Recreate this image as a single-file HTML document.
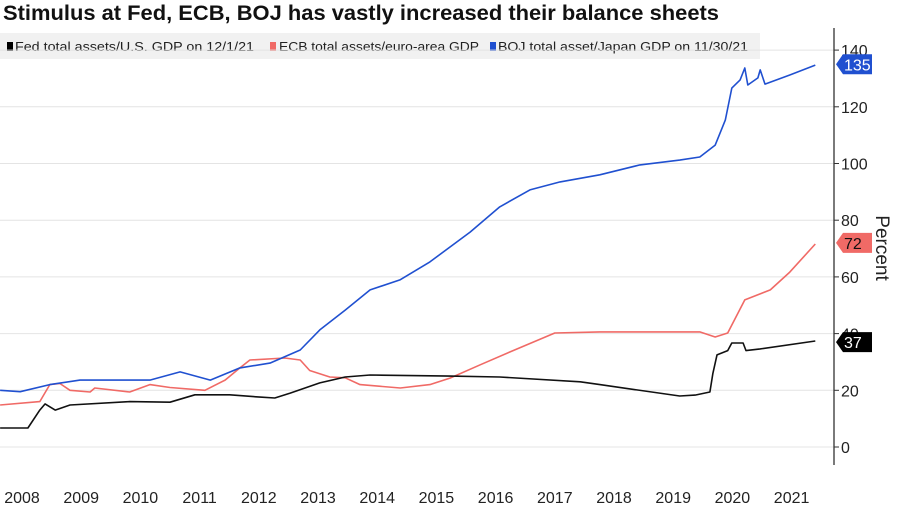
<!DOCTYPE html>
<html><head><meta charset="utf-8"><style>
body{margin:0;background:#fff;}
svg{display:block;font-family:"Liberation Sans Narrow","Liberation Sans",sans-serif;}
</style></head><body>
<svg id="c" width="900" height="510" viewBox="0 0 900 510">
<text x="3" y="20" font-size="21" font-weight="bold" fill="#111" textLength="716" lengthAdjust="spacingAndGlyphs">Stimulus at Fed, ECB, BOJ has vastly increased their balance sheets</text>
<g>
<rect x="0" y="33" width="760" height="26" fill="#f1f1f1"/>
<rect x="7" y="42" width="6" height="9" fill="#000"/>
<text x="15" y="51" font-size="13" fill="#222" textLength="239" lengthAdjust="spacingAndGlyphs">Fed total assets/U.S. GDP on 12/1/21</text>
<rect x="270" y="42" width="6" height="9" fill="#f06a66"/>
<text x="279" y="51" font-size="13" fill="#222" textLength="200" lengthAdjust="spacingAndGlyphs">ECB total assets/euro-area GDP</text>
<rect x="490" y="42" width="6" height="9" fill="#1f4fd0"/>
<text x="498" y="51" font-size="13" fill="#222" textLength="250" lengthAdjust="spacingAndGlyphs">BOJ total asset/Japan GDP on 11/30/21</text>
</g>
<g id="grid"></g><g id="axes"></g><g id="series"></g><g id="tags"></g>
<text transform="translate(876,248) rotate(90)" text-anchor="middle" font-size="19" fill="#222">Percent</text>
</svg>
<script>
const yTicks=[0,20,40,60,80,100,120,140];
const years=[2008,2009,2010,2011,2012,2013,2014,2015,2016,2017,2018,2019,2020,2021];
const fedT=[2008.13,2008.60,2008.80,2008.89,2009.06,2009.31,2010.32,2011.0,2011.42,2012.01,2012.52,2012.77,2013.03,2013.53,2013.96,2014.38,2015.73,2016.57,2017.93,2018.26,2019.61,2019.87,2020.12,2020.17,2020.24,2020.42,2020.49,2020.68,2020.73,2020.97,2021.90];
const fedV=[6.7,6.7,13,15.2,13,14.8,16,15.8,18.4,18.4,17.6,17.3,19,22.6,24.7,25.4,25,24.7,23,22,18,18.3,19.4,26,32.5,34,36.7,36.7,34,34.6,37.4];
const ecbT=[2008.13,2008.80,2008.97,2009.14,2009.31,2009.65,2009.73,2010.32,2010.66,2011.0,2011.59,2011.93,2012.18,2012.35,2012.94,2013.20,2013.36,2013.70,2013.96,2014.21,2014.89,2015.39,2015.73,2016.24,2016.74,2017.50,2018.26,2019.19,2019.95,2020.21,2020.42,2020.71,2021.14,2021.47,2021.90];
const ecbV=[14.8,16,22,22.4,20,19.4,20.8,19.4,22,21,20,23.6,27.9,30.7,31.4,30.7,27,24.7,24.4,22,20.8,22,24.3,29,33.5,40.2,40.6,40.6,40.6,38.8,40.2,51.9,55.4,61.7,71.6];
const bojT=[2008.13,2008.47,2008.97,2009.48,2010.16,2010.66,2011.17,2011.68,2012.18,2012.69,2013.20,2013.53,2013.96,2014.38,2014.89,2015.39,2016.07,2016.57,2017.08,2017.59,2018.26,2018.94,2019.61,2019.95,2020.21,2020.38,2020.49,2020.63,2020.71,2020.76,2020.93,2020.97,2021.05,2021.47,2021.90];
const bojV=[20,19.5,22,23.6,23.6,23.6,26.5,23.6,27.9,29.6,34.2,41.3,48.3,55.4,59,65.3,75.8,84.7,90.7,93.5,96,99.5,101.2,102.3,106.5,115.3,126.6,129.5,133.7,127.7,130.2,133,128,131.2,134.7];
const NS='http://www.w3.org/2000/svg';
const xS=t=>22+(t-2008.5)*59.2;
const yS=v=>447-v*2.835;
function mk(tag,attrs,parent){const e=document.createElementNS(NS,tag);for(const k in attrs)e.setAttribute(k,attrs[k]);document.getElementById(parent).appendChild(e);return e;}
yTicks.forEach(v=>{
 const g=mk('line',{x1:0,x2:834,y1:yS(v),y2:yS(v),stroke:'#e4e4e4','stroke-width':1},'grid');
 
 
 const tk=mk('line',{x1:834,x2:839,y1:yS(v),y2:yS(v),stroke:'#333'},'axes');
 
 
 const t=mk('text',{x:841,y:yS(v)+6,'font-size':16,fill:'#222'},'axes');
 t.textContent=v;
 
 
});
const ax=mk('line',{x1:834,x2:834,y1:28,y2:465,stroke:'#333','stroke-width':1.3},'axes');


years.forEach(y=>{
 const t=mk('text',{x:xS(y+0.5),y:503,'font-size':16,fill:'#222','text-anchor':'middle'},'axes');
 t.textContent=y;
 
 
});
function line(T,V,color,name){
 const d=T.map((t,i)=>(i?'L':'M')+xS(t).toFixed(1)+','+yS(V[i]).toFixed(1)).join('');
 const p=mk('path',{d:d,fill:'none',stroke:color,'stroke-width':1.6,'stroke-linejoin':'round'},'series');
 
 
}
line(ecbT,ecbV,'#f06a66','ecb-line');
line(fedT,fedV,'#111','fed-line');
line(bojT,bojV,'#2050d0','boj-line');
function tag(v,fill,tc,name){
 const y=yS(v);
 const p=mk('path',{d:`M836,${y}L843,${y-10}H872V${y+10}H843Z`,fill:fill},'tags');
 
 
 const t=mk('text',{x:844,y:y+6,'font-size':16,fill:tc},'tags');
 t.textContent=v;
 
 
}
tag(Math.round(bojV[bojV.length-1]),'#2050d0','#fff','boj-last-tag');
tag(Math.round(ecbV[ecbV.length-1]),'#f06a66','#111','ecb-last-tag');
tag(Math.round(fedV[fedV.length-1]),'#000','#fff','fed-last-tag');
</script>
</body></html>
